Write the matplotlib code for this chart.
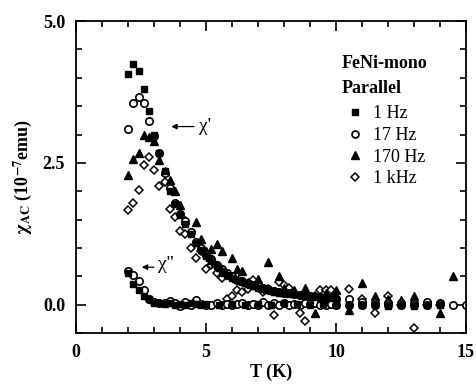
import numpy as np
import matplotlib
matplotlib.use("Agg")
import matplotlib.pyplot as plt
from matplotlib.ticker import MultipleLocator

plt.rcParams["font.family"] = ["Liberation Serif", "DejaVu Serif"]
plt.rcParams["mathtext.fontset"] = "stix"

# ---- chi' (real part) ----
t_1hz = [2.0, 2.2, 2.4, 2.6, 2.8, 3.0, 3.2, 3.4, 3.6, 3.8, 4.0, 4.2, 4.4, 4.6, 4.8,
         5.0, 5.1, 5.2, 5.3, 5.4, 5.5, 5.6, 5.7, 5.8, 5.9, 6.0, 6.1, 6.2, 6.3, 6.4,
         6.5, 6.6, 6.7, 6.8, 6.9, 7.0, 7.1, 7.2, 7.3, 7.4, 7.5, 7.6, 7.7, 7.8, 7.9,
         8.0, 8.2, 8.4, 8.6, 8.8, 9.0, 9.2, 9.4, 9.6, 9.8, 10.0]
x1_1hz = [4.07, 4.24, 4.12, 3.80, 3.42, 3.00, 2.67, 2.35, 2.00, 1.78, 1.58, 1.43, 1.25, 1.08, 0.97,
          0.85, 0.82, 0.77, 0.72, 0.68, 0.64, 0.60, 0.56, 0.52, 0.50, 0.47, 0.45, 0.43, 0.41, 0.40,
          0.38, 0.36, 0.35, 0.33, 0.32, 0.30, 0.29, 0.28, 0.26, 0.25, 0.24, 0.23, 0.22, 0.21, 0.21,
          0.20, 0.19, 0.18, 0.17, 0.16, 0.15, 0.14, 0.13, 0.12, 0.11, 0.10]

t_17hz = [2.0, 2.2, 2.4, 2.6, 2.8, 3.0, 3.2, 3.4, 3.6, 3.8, 4.0, 4.2, 4.4, 4.6, 4.8,
          5.0, 5.2, 5.4, 5.6, 5.8, 6.0, 6.2, 6.4, 6.6, 6.8, 7.0, 7.2, 7.4, 7.6, 7.8,
          8.0, 8.2, 8.4, 8.6, 8.8, 9.0, 9.2, 9.4, 9.6, 9.8, 10.0, 10.5, 11.0, 11.5,
          12.0, 12.5, 13.0, 13.5, 14.0]
x1_17hz = [3.09, 3.55, 3.67, 3.55, 3.24, 2.98, 2.67, 2.32, 2.05, 1.80, 1.60, 1.47, 1.28, 1.11, 1.00,
           0.88, 0.80, 0.70, 0.62, 0.55, 0.50, 0.44, 0.42, 0.38, 0.35, 0.32, 0.30, 0.27, 0.24, 0.22,
           0.20, 0.20, 0.18, 0.17, 0.16, 0.15, 0.14, 0.13, 0.12, 0.12, 0.10, 0.09, 0.05, 0.03,
           0.02, 0.02, 0.03, 0.04, 0.02]

t_170hz = [2.0, 2.2, 2.4, 2.6, 2.8, 3.0, 3.2, 3.4, 3.6, 3.8, 4.0, 4.2, 4.6, 4.8, 5.0,
           5.2, 5.4, 5.6, 6.0, 6.2, 6.4, 6.6, 7.0, 7.4, 7.8, 8.0, 8.4, 8.8, 9.2, 9.6,
           10.0, 10.5, 11.0, 11.5, 12.0, 12.5, 13.0, 13.5, 14.0, 14.5]
x1_170hz = [2.29, 2.56, 2.67, 3.00, 2.95, 2.88, 2.55, 2.35, 2.20, 2.01, 1.75, 1.50, 1.46, 1.15, 0.95,
            0.98, 1.07, 0.94, 0.82, 0.63, 0.59, 0.40, 0.45, 0.75, 0.50, 0.30, 0.25, 0.30, -0.14, 0.20,
            0.25, -0.09, 0.38, 0.16, 0.10, 0.08, 0.16, 0.04, -0.15, 0.50]

t_1khz = [2.0, 2.2, 2.4, 2.6, 2.8, 3.0, 3.2, 3.4, 3.6, 3.8, 4.0, 4.2, 4.4, 4.6, 4.8,
          5.0, 5.2, 5.4, 5.6, 5.8, 6.0, 6.2, 6.4, 6.6, 6.8, 7.0, 7.2, 7.4, 7.6, 7.8,
          8.0, 8.2, 8.4, 8.6, 8.8, 9.0, 9.2, 9.4, 9.6, 9.8, 10.0, 10.5, 11.0, 11.5,
          12.0, 12.5, 13.0, 13.5, 14.0]
x1_1khz = [1.66, 1.79, 2.02, 2.46, 2.60, 2.38, 2.10, 2.16, 1.68, 1.55, 1.30, 1.25, 1.00, 0.82, 0.94,
           0.63, 0.70, 0.55, 0.47, 0.09, 0.15, 0.26, 0.23, 0.28, 0.44, 0.35, 0.23, 0.28, -0.18, 0.40,
           0.35, 0.30, 0.20, -0.15, -0.29, 0.10, 0.15, 0.25, 0.25, 0.25, 0.20, 0.28, 0.10, -0.14,
           0.15, 0.00, -0.42, 0.00, 0.00]

# ---- chi'' (imaginary part) ----
t2_1hz = [2.0, 2.2, 2.4, 2.6, 2.8, 3.0, 3.2, 3.4, 3.6, 3.8, 4.0, 4.2, 4.4, 4.6, 4.8,
          5.0, 5.5, 6.0, 6.5, 7.0, 7.5, 8.0, 8.5, 9.0, 9.5, 10.0, 10.5, 11.0, 11.5,
          12.0, 12.5, 13.0, 13.5, 14.0]
x2_1hz = [0.55, 0.36, 0.26, 0.15, 0.10, 0.03, 0.02, 0.01, 0.02, 0.00, 0.01, 0.00, 0.02, 0.01, 0.00,
          0.01, 0.00, 0.01, 0.00, 0.01, 0.00, 0.02, 0.01, 0.00, 0.01, 0.00, 0.00, 0.00, 0.00,
          -0.03, 0.00, -0.03, 0.00, 0.00]

t2_17hz = [2.0, 2.2, 2.4, 2.6, 2.8, 3.0, 3.2, 3.4, 3.6, 3.8, 4.0, 4.2, 4.4, 4.6, 4.8,
           5.0, 5.2, 5.4, 5.6, 5.8, 6.0, 6.2, 6.4, 6.6, 6.8, 7.0, 7.2, 7.4, 7.6, 7.8,
           8.0, 8.2, 8.4, 8.6, 8.8, 9.0, 9.2, 9.4, 9.6, 9.8, 10.0, 10.5, 11.0, 11.5,
           12.0, 12.5, 13.0, 13.5, 14.0, 14.5, 15.0]
x2_17hz = [0.60, 0.53, 0.41, 0.26, 0.10, 0.04, 0.03, 0.03, 0.06, 0.02, -0.02, 0.04, 0.00, 0.08, 0.01,
           -0.01, 0.00, 0.02, 0.00, 0.01, 0.00, 0.01, 0.03, 0.00, 0.01, 0.00, 0.05, 0.00, 0.02, 0.00,
           0.03, 0.00, 0.01, 0.00, 0.02, 0.01, 0.03, 0.00, 0.00, 0.01, 0.00, 0.00, 0.00, 0.00,
           0.00, 0.00, 0.00, 0.00, 0.01, 0.00, 0.00]

fig = plt.figure(figsize=(4.76, 3.84), dpi=100)
ax = fig.add_axes([0.16, 0.133, 0.819, 0.812])

sq = dict(marker="s", ls="none", color="black", ms=4.6)
ci = dict(marker="o", ls="none", mfc="white", mec="black", mew=1.2, ms=5.3)
tr = dict(marker="^", ls="none", color="black", ms=5.6)
di = dict(marker="D", ls="none", mfc="white", mec="black", mew=1.1, ms=4.4)

ax.plot(t_1khz, x1_1khz, **di)
ax.plot(t_170hz, x1_170hz, **tr)
ax.plot(t_17hz, x1_17hz, **ci)
ax.plot(t2_17hz, x2_17hz, **ci)
ax.plot(t_1hz, x1_1hz, **sq)
ax.plot(t2_1hz, x2_1hz, **sq)

ax.set_xlim(0, 15)
ax.set_ylim(-0.5, 5.0)
ax.xaxis.set_major_locator(MultipleLocator(5))
ax.xaxis.set_minor_locator(MultipleLocator(1))
ax.yaxis.set_major_locator(MultipleLocator(2.5))
ax.yaxis.set_minor_locator(MultipleLocator(0.5))
ax.tick_params(which="both", direction="in", top=True, right=True, width=1.2)
ax.tick_params(which="major", length=7, labelsize=13, pad=8)
ax.tick_params(which="minor", length=4)
ax.set_yticks([0.0, 2.5, 5.0])
ax.set_yticklabels(["0.0", "2.5", "5.0"])
for lab in ax.get_xticklabels() + ax.get_yticklabels():
    lab.set_fontweight("bold")
for s in ax.spines.values():
    s.set_linewidth(1.3)

ax.set_xlabel("T (K)", fontsize=13, fontweight="bold", labelpad=2)
ax.set_ylabel(r"$\mathbf{\chi}_{\mathbf{AC}}$ (10$^{\mathbf{-7}}$emu)", fontsize=13,
              fontweight="bold", labelpad=6)

# annotations
ax.annotate("", xy=(3.55, 3.14), xytext=(4.64, 3.14),
            arrowprops=dict(arrowstyle="-|>", color="black", lw=0.9, mutation_scale=8))
ax.text(4.72, 3.14, "\u03c7'", fontsize=14, va="center", ha="left")
ax.annotate("", xy=(2.42, 0.66), xytext=(3.1, 0.66),
            arrowprops=dict(arrowstyle="-|>", color="black", lw=0.9, mutation_scale=8))
ax.text(3.15, 0.70, "\u03c7''", fontsize=14, va="center", ha="left")

# legend
ax.text(10.2, 4.26, "FeNi-mono", fontsize=13, fontweight="bold", va="center", ha="left")
ax.text(10.2, 3.82, "Parallel", fontsize=13, fontweight="bold", va="center", ha="left")
h = [plt.Line2D([], [], **{**sq, "ms": 4.5}), plt.Line2D([], [], **{**ci, "ms": 5}),
     plt.Line2D([], [], **{**tr, "ms": 5.5}), plt.Line2D([], [], **{**di, "ms": 4.3})]
leg = ax.legend(h, ["1 Hz", "17 Hz", "170 Hz", "1 kHz"],
                loc="upper left", bbox_to_anchor=(0.66, 0.77), frameon=False,
                fontsize=13, handlelength=1.0, handletextpad=0.5, labelspacing=0.25,
                borderpad=0.2)

fig.savefig("out.png", dpi=100)
